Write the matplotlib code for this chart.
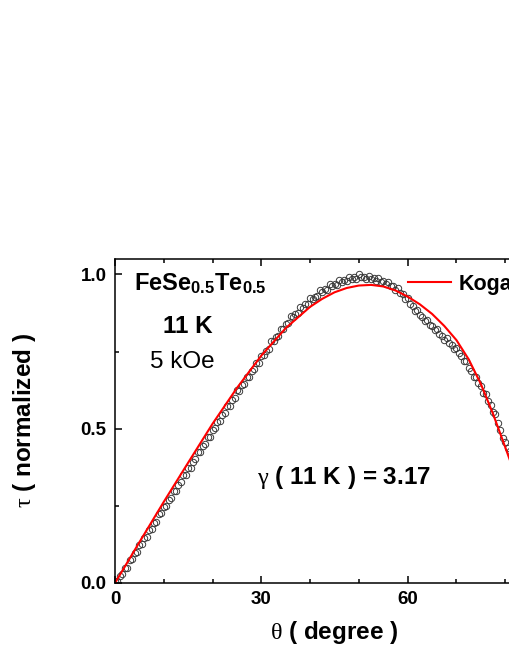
"""
FeSe0.5Te0.5 torque curve at 11 K, 5 kOe, with Kogan fit.
"""

import matplotlib

matplotlib.use("Agg")
import matplotlib.pyplot as plt
from matplotlib.ticker import MultipleLocator

plt.rcParams["font.family"] = ["Liberation Sans", "DejaVu Sans"]
plt.rcParams["mathtext.fontset"] = "custom"
plt.rcParams["mathtext.rm"] = "Liberation Serif"
plt.rcParams["mathtext.bf"] = "Liberation Sans:bold"

# measured torque, sweep 1 (theta in degree)
theta_up = [
    0, 1, 2, 3, 4, 5, 6, 7, 8, 9,
    10, 11, 12, 13, 14, 15, 16, 17, 18, 19,
    20, 21, 22, 23, 24, 25, 26, 27, 28, 29,
    30, 31, 32, 33, 34, 35, 36, 37, 38, 39,
    40, 41, 42, 43, 44, 45, 46, 47, 48, 49,
    50, 51, 52, 53, 54, 55, 56, 57, 58, 59,
    60, 61, 62, 63, 64, 65, 66, 67, 68, 69,
    70, 71, 72, 73, 74, 75, 76, 77, 78, 79,
    80, 81, 82, 83, 84, 85, 86, 87, 88, 89,
    90,
]
tau_up = [
    0.005, 0.022, 0.048, 0.074, 0.098, 0.124, 0.146, 0.172, 0.193, 0.224,
    0.247, 0.268, 0.298, 0.318, 0.349, 0.372, 0.393, 0.424, 0.443, 0.474,
    0.497, 0.523, 0.543, 0.574, 0.593, 0.624, 0.641, 0.668, 0.688, 0.714,
    0.737, 0.753, 0.784, 0.798, 0.824, 0.838, 0.864, 0.873, 0.894, 0.903,
    0.924, 0.928, 0.949, 0.953, 0.968, 0.968, 0.982, 0.983, 0.993, 0.991,
    1.000, 0.992, 0.996, 0.988, 0.988, 0.978, 0.975, 0.961, 0.955, 0.935,
    0.923, 0.897, 0.885, 0.863, 0.853, 0.832, 0.823, 0.802, 0.793, 0.772,
    0.763, 0.737, 0.718, 0.687, 0.668, 0.637, 0.613, 0.577, 0.548, 0.497,
    0.458, 0.428, 0.393, 0.348, 0.313, 0.268, 0.223, 0.168, 0.123, 0.068,
    0.022,
]

# measured torque, sweep 2
theta_down = [
    0.5, 1.5, 2.5, 3.5, 4.5, 5.5, 6.5, 7.5, 8.5, 9.5,
    10.5, 11.5, 12.5, 13.5, 14.5, 15.5, 16.5, 17.5, 18.5, 19.5,
    20.5, 21.5, 22.5, 23.5, 24.5, 25.5, 26.5, 27.5, 28.5, 29.5,
    30.5, 31.5, 32.5, 33.5, 34.5, 35.5, 36.5, 37.5, 38.5, 39.5,
    40.5, 41.5, 42.5, 43.5, 44.5, 45.5, 46.5, 47.5, 48.5, 49.5,
    50.5, 51.5, 52.5, 53.5, 54.5, 55.5, 56.5, 57.5, 58.5, 59.5,
    60.5, 61.5, 62.5, 63.5, 64.5, 65.5, 66.5, 67.5, 68.5, 69.5,
    70.5, 71.5, 72.5, 73.5, 74.5, 75.5, 76.5, 77.5, 78.5, 79.5,
    80.5, 81.5, 82.5, 83.5, 84.5, 85.5, 86.5, 87.5, 88.5, 89.5,
]
tau_down = [
    0.006, 0.028, 0.050, 0.079, 0.101, 0.126, 0.150, 0.176, 0.199, 0.226,
    0.249, 0.276, 0.298, 0.326, 0.349, 0.374, 0.401, 0.424, 0.451, 0.474,
    0.501, 0.524, 0.551, 0.574, 0.601, 0.621, 0.646, 0.669, 0.694, 0.714,
    0.739, 0.759, 0.784, 0.801, 0.824, 0.841, 0.861, 0.874, 0.891, 0.904,
    0.919, 0.929, 0.944, 0.951, 0.961, 0.966, 0.976, 0.979, 0.986, 0.986,
    0.990, 0.986, 0.986, 0.979, 0.977, 0.968, 0.962, 0.949, 0.940, 0.921,
    0.904, 0.883, 0.868, 0.850, 0.837, 0.819, 0.807, 0.789, 0.777, 0.759,
    0.744, 0.719, 0.697, 0.669, 0.647, 0.617, 0.590, 0.554, 0.517, 0.469,
    0.437, 0.402, 0.365, 0.322, 0.285, 0.237, 0.190, 0.137, 0.090, 0.037,
]

# Kogan fit curve
theta_fit = [0, 5, 10, 15, 20, 25, 30, 35, 40, 42.5, 45, 47.5, 50, 52.5,
             55, 57.5, 60, 62.5, 65, 67.5, 70, 72.5, 75, 77.5, 80, 82.5,
             85, 87.5, 90]
tau_fit = [0.0, 0.132, 0.263, 0.390, 0.516, 0.632, 0.737, 0.826, 0.895,
           0.921, 0.942, 0.956, 0.964, 0.966, 0.961, 0.948, 0.928, 0.903,
           0.872, 0.833, 0.787, 0.725, 0.645, 0.548, 0.440, 0.330, 0.220,
           0.110, 0.0]

fig = plt.figure(figsize=(5.1, 6.6), dpi=100)
ax = fig.add_axes([0.2255, 0.1167, 0.8608, 0.4909])

ax.plot(theta_up, tau_up, "o", ms=4.6, mfc="none", mec="#3a3a3a", mew=0.7)
ax.plot(theta_down, tau_down, "o", ms=4.6, mfc="none", mec="#3a3a3a", mew=0.7)
ax.plot(theta_fit, tau_fit, "-", color="#ff0000", lw=1.5, label="Kogan")

ax.set_xlim(0, 90)
ax.set_ylim(0, 1.05)
ax.xaxis.set_major_locator(MultipleLocator(30))
ax.xaxis.set_minor_locator(MultipleLocator(10))
ax.yaxis.set_major_locator(MultipleLocator(0.5))
ax.yaxis.set_minor_locator(MultipleLocator(0.25))
ax.tick_params(which="both", direction="in", top=True, right=True, width=1.1)
ax.tick_params(which="major", length=5, labelsize=13.5, pad=6)
ax.tick_params(which="minor", length=3)
for lbl in ax.get_xticklabels() + ax.get_yticklabels():
    lbl.set_fontweight("bold")
ax.yaxis.set_major_formatter(plt.FormatStrFormatter("%.1f"))
for sp in ax.spines.values():
    sp.set_linewidth(1.1)

ax.set_xlabel(r"$\mathrm{\theta}$ ( degree )", fontsize=17.5, fontweight="bold", labelpad=8)
ax.set_ylabel(r"$\mathrm{\tau}$ ( normalized )", fontsize=17.5, fontweight="bold", labelpad=31)

ax.text(17.4, 0.97, r"$\mathbf{FeSe_{0.5}Te_{0.5}}$", fontsize=17, ha="center", va="center")
ax.text(15.0, 0.832, "11 K", fontsize=17.5, fontweight="bold", ha="center", va="center")
ax.text(13.8, 0.715, "5 kOe", fontsize=17.5, ha="center", va="center")
ax.text(47, 0.343, r"$\mathrm{\gamma}$ ( 11 K ) = 3.17", fontsize=17.5,
        fontweight="bold", ha="center", va="center")

leg = ax.legend(loc="upper left", bbox_to_anchor=(0.624, 1.014), frameon=False,
                handlelength=2.0, handletextpad=0.35, prop={"size": 15.5, "weight": "bold"})

fig.savefig("out.png", dpi=100)
